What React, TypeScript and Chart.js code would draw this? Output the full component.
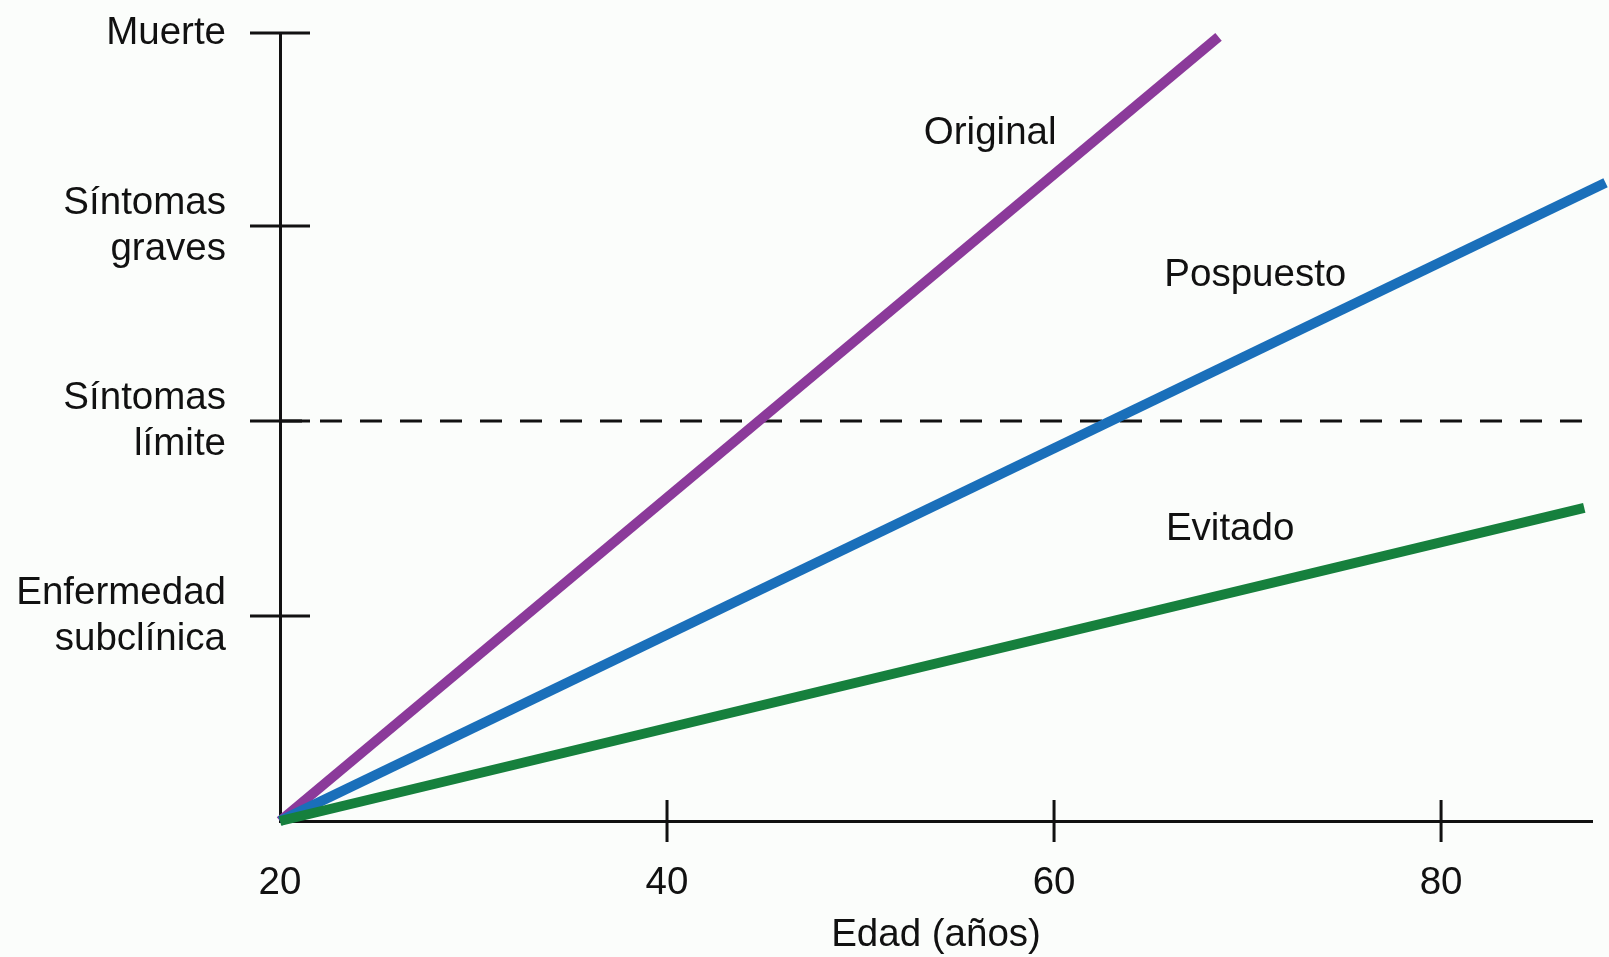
import React, { useEffect, useRef } from "react";
import { Chart, registerables } from "chart.js";

Chart.register(...registerables);

// ---- data ----
const xTickValues = [20, 40, 60, 80];
const xMin = 20;
const xMax = 87.8;
const yLevels = [1.04, 2.03, 3.02, 4];
const yLevelLabels: (string | string[])[] = [
  ["Enfermedad", "subclínica"],
  ["Síntomas", "límite"],
  ["Síntomas", "graves"],
  "Muerte",
];

const originalX = [20, 68.5];
const originalY = [0, 3.98];
const pospuestoX = [20, 88.5];
const pospuestoY = [0, 3.24];
const evitadoX = [20, 87.4];
const evitadoY = [0, 1.59];
const thresholdX = [20, 87.8];
const thresholdY = [2.03, 2.03];

const seriesNames = ["Original", "Pospuesto", "Evitado"];
const seriesLabelX = [56.7, 70.4, 69.1];
const seriesLabelY = [3.49, 2.77, 1.48];

const FONT = "'Liberation Sans', Arial, Helvetica, sans-serif";
const INK = "#111111";
const FS = 38.5;

const toPoints = (xs: number[], ys: number[]) => xs.map((x, i) => ({ x, y: ys[i] }));

const annotatePlugin = {
  id: "annotate",
  afterDraw(chart: any) {
    const { ctx } = chart;
    const xs = chart.scales.x;
    const ys = chart.scales.y;
    ctx.save();
    ctx.strokeStyle = INK;
    ctx.lineWidth = 3;
    yLevels.forEach((v) => {
      const py = ys.getPixelForValue(v);
      ctx.beginPath();
      ctx.moveTo(xs.left - 30, py);
      ctx.lineTo(xs.left + 30, py);
      ctx.stroke();
    });
    xTickValues
      .filter((v) => v !== xMin)
      .forEach((v) => {
        const px = xs.getPixelForValue(v);
        ctx.beginPath();
        ctx.moveTo(px, ys.bottom - 21);
        ctx.lineTo(px, ys.bottom + 21);
        ctx.stroke();
      });
    ctx.fillStyle = INK;
    ctx.font = `${FS}px ${FONT}`;
    ctx.textAlign = "center";
    ctx.textBaseline = "middle";
    seriesNames.forEach((name, i) => {
      ctx.fillText(name, xs.getPixelForValue(seriesLabelX[i]), ys.getPixelForValue(seriesLabelY[i]));
    });
    ctx.restore();
  },
};

export default function App() {
  const canvasRef = useRef<HTMLCanvasElement | null>(null);

  useEffect(() => {
    if (!canvasRef.current) return;
    const chart = new Chart(canvasRef.current, {
      type: "line",
      data: {
        datasets: [
          {
            label: seriesNames[2],
            data: toPoints(evitadoX, evitadoY),
            borderColor: "#16803d",
            borderWidth: 10,
            pointRadius: 0,
            clip: false as any,
          },
          {
            label: seriesNames[1],
            data: toPoints(pospuestoX, pospuestoY),
            borderColor: "#1a6fba",
            borderWidth: 10,
            pointRadius: 0,
            clip: false as any,
          },
          {
            label: seriesNames[0],
            data: toPoints(originalX, originalY),
            borderColor: "#8b3a9a",
            borderWidth: 10,
            pointRadius: 0,
            clip: false as any,
          },
          {
            label: "umbral",
            data: toPoints(thresholdX, thresholdY),
            borderColor: INK,
            borderWidth: 3,
            borderDash: [22, 18],
            pointRadius: 0,
            clip: false as any,
          },
        ],
      },
      options: {
        animation: false,
        responsive: false,
        maintainAspectRatio: false,
        layout: { padding: { top: 33, right: 17, left: 0, bottom: 0 } },
        plugins: {
          legend: { display: false },
          tooltip: { enabled: false },
          title: { display: false },
        },
        scales: {
          x: {
            type: "linear",
            min: xMin,
            max: xMax,
            afterFit: (s: any) => {
              s.height = 136;
              s.paddingLeft = 0;
              s.paddingRight = 0;
            },
            afterBuildTicks: (s: any) => {
              s.ticks = xTickValues.map((v) => ({ value: v }));
            },
            grid: { display: true, drawOnChartArea: false, drawTicks: false },
            border: { display: true, color: INK, width: 3 },
            ticks: {
              autoSkip: false,
              maxRotation: 0,
              padding: 39,
              color: INK,
              font: { family: FONT, size: FS, lineHeight: 1.2 },
              callback: (v: any) => String(v),
            },
            title: {
              display: true,
              text: "Edad (años)",
              color: INK,
              font: { family: FONT, size: FS, lineHeight: 1.1 },
              padding: { top: 0, bottom: 0 },
            },
          },
          y: {
            type: "linear",
            min: 0,
            max: 4,
            afterFit: (s: any) => {
              s.width = 280;
              s.paddingTop = 0;
              s.paddingBottom = 0;
            },
            afterBuildTicks: (s: any) => {
              s.ticks = yLevels.map((v) => ({ value: v }));
            },
            grid: { display: true, drawOnChartArea: false, drawTicks: false },
            border: { display: true, color: INK, width: 3 },
            ticks: {
              autoSkip: false,
              padding: 54,
              color: INK,
              font: { family: FONT, size: FS, lineHeight: 1.2 },
              callback: (v: any) => {
                const i = yLevels.indexOf(Number(v));
                return i >= 0 ? (yLevelLabels[i] as any) : "";
              },
            },
          },
        },
      },
      plugins: [annotatePlugin],
    });
    return () => chart.destroy();
  }, []);

  return (
    <div
      style={{
        position: "fixed",
        left: 0,
        top: 0,
        width: 1609,
        height: 957,
        background: "#fbfdfb",
      }}
    >
      <canvas ref={canvasRef} width={1609} height={957} style={{ display: "block" }} />
    </div>
  );
}
